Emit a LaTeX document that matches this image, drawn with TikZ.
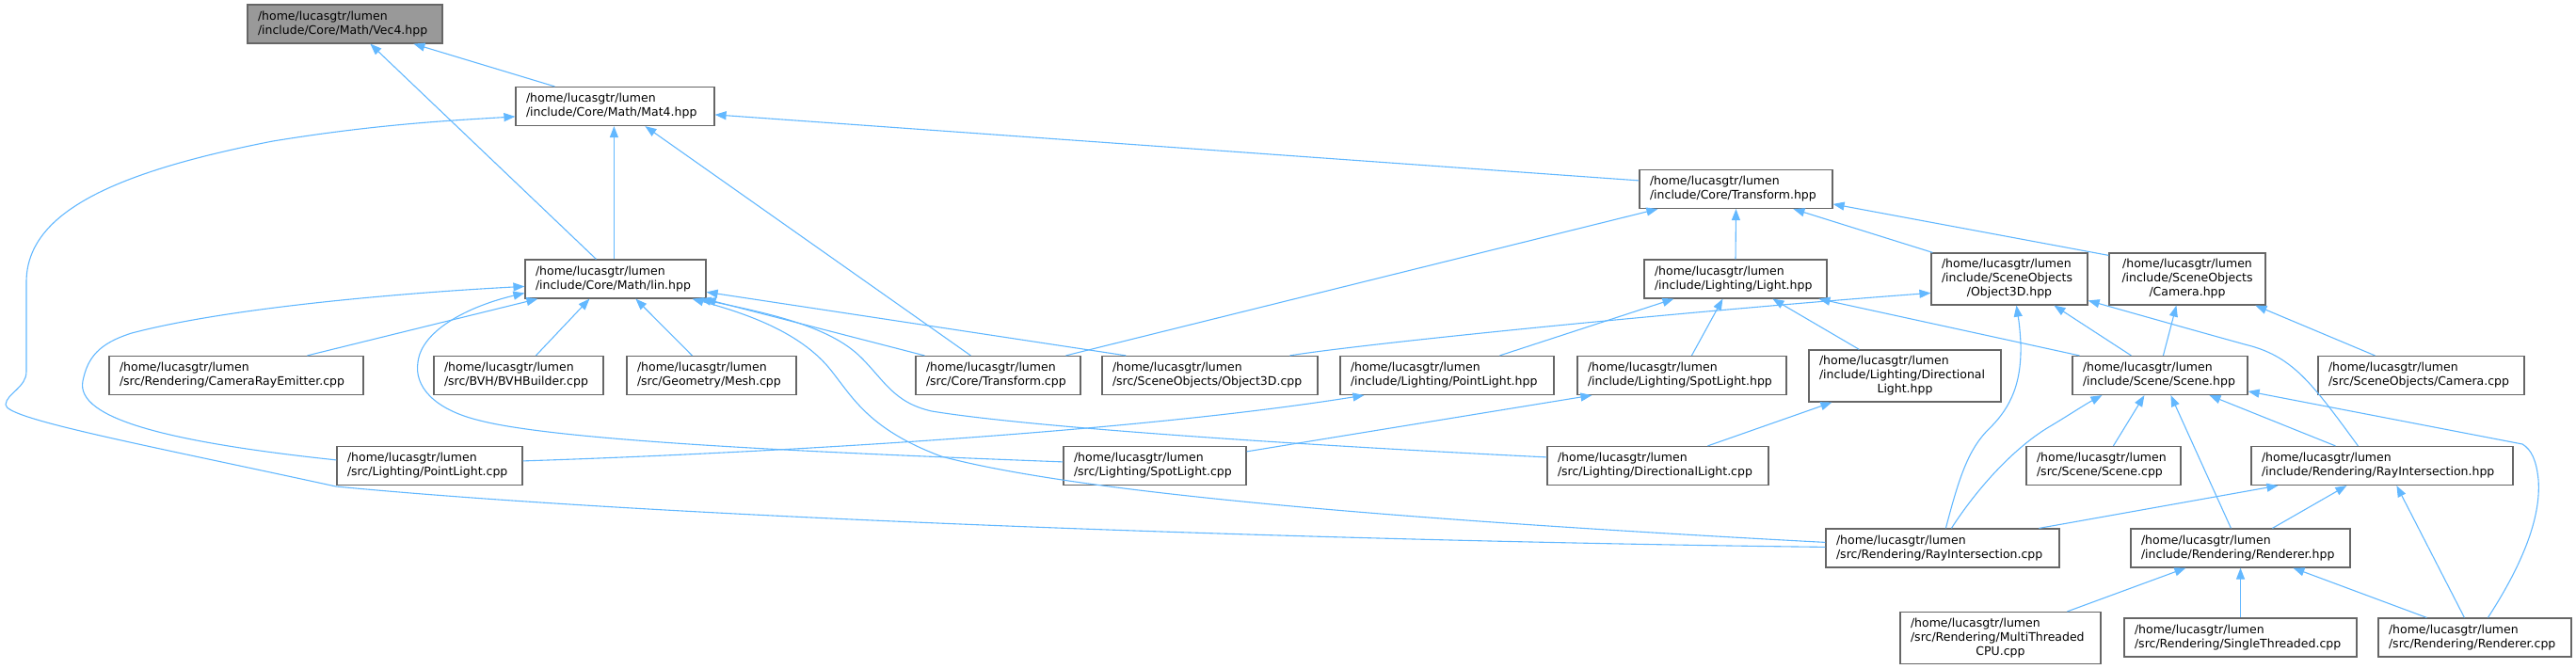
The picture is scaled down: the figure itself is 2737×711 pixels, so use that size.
\documentclass[tikz,border=0pt]{standalone}
\usepackage{fontspec}
\setmainfont{DejaVu Sans}
\usetikzlibrary{arrows.meta}
\definecolor{edgec}{HTML}{63B8FF}
\definecolor{boxc}{HTML}{666666}
\definecolor{vecfill}{HTML}{999999}
\tikzset{
  box/.style={draw=boxc, fill=white, line width=1.2pt, inner xsep=11pt, inner ysep=0pt,
    align=left, font=\fontsize{12.5pt}{15pt}\selectfont, anchor=center},
  dep/.style={draw=edgec, line width=1.1pt, -{Triangle[length=12pt,width=9pt]}},
}
\newcommand{\cl}[1]{\makebox[\linewidth][c]{#1}}
\begin{document}
\begin{tikzpicture}[x=1pt,y=-1pt]
\useasboundingbox (0,0) rectangle (2737,711);
% nodes
\node[box, fill=vecfill, text width=185pt, minimum height=41pt] (vec4) at (366.5,25.5) {/home/lucasgtr/lumen\\/include/Core/Math/Vec4.hpp};
\node[box, text width=189pt, minimum height=41pt] (mat4) at (653.5,113) {/home/lucasgtr/lumen\\/include/Core/Math/Mat4.hpp};
\node[box, text width=170pt, minimum height=41pt] (lin) at (654,296.5) {/home/lucasgtr/lumen\\/include/Core/Math/lin.hpp};
\node[box, text width=183pt, minimum height=41pt] (transhpp) at (1844.5,201) {/home/lucasgtr/lumen\\/include/Core/Transform.hpp};
\node[box, text width=172pt, minimum height=41pt] (light) at (1844,296.5) {/home/lucasgtr/lumen\\/include/Lighting/Light.hpp};
\node[box, text width=144pt, minimum height=55pt] (obj3dhpp) at (2135,296.5) {/home/lucasgtr/lumen\\/include/SceneObjects\\\cl{/Object3D.hpp}};
\node[box, align=center, text width=144pt, minimum height=55pt] (camhpp) at (2324,296.5) {/home/lucasgtr/lumen\\/include/SceneObjects\\/Camera.hpp};
\node[box, text width=248pt, minimum height=41pt] (cre) at (251,399) {/home/lucasgtr/lumen\\/src/Rendering/CameraRayEmitter.cpp};
\node[box, text width=158pt, minimum height=41pt] (bvh) at (551,399) {/home/lucasgtr/lumen\\/src/BVH/BVHBuilder.cpp};
\node[box, text width=158pt, minimum height=41pt] (mesh) at (756,399) {/home/lucasgtr/lumen\\/src/Geometry/Mesh.cpp};
\node[box, text width=153pt, minimum height=41pt] (transcpp) at (1060.5,399) {/home/lucasgtr/lumen\\/src/Core/Transform.cpp};
\node[box, text width=207pt, minimum height=41pt] (obj3dcpp) at (1285.5,399) {/home/lucasgtr/lumen\\/src/SceneObjects/Object3D.cpp};
\node[box, text width=205pt, minimum height=41pt] (plhpp) at (1537.5,399) {/home/lucasgtr/lumen\\/include/Lighting/PointLight.hpp};
\node[box, text width=200pt, minimum height=41pt] (slhpp) at (1787,399) {/home/lucasgtr/lumen\\/include/Lighting/SpotLight.hpp};
\node[box, text width=182pt, minimum height=55pt] (dlhpp) at (2024,399.5) {/home/lucasgtr/lumen\\/include/Lighting/Directional\\\cl{Light.hpp}};
\node[box, text width=164pt, minimum height=41pt] (scenehpp) at (2295,399) {/home/lucasgtr/lumen\\/include/Scene/Scene.hpp};
\node[box, text width=197pt, minimum height=41pt] (camcpp) at (2572.5,399) {/home/lucasgtr/lumen\\/src/SceneObjects/Camera.cpp};
\node[box, text width=175pt, minimum height=41pt] (plcpp) at (456.5,495) {/home/lucasgtr/lumen\\/src/Lighting/PointLight.cpp};
\node[box, text width=172pt, minimum height=41pt] (slcpp) at (1227,495) {/home/lucasgtr/lumen\\/src/Lighting/SpotLight.cpp};
\node[box, text width=213pt, minimum height=41pt] (dlcpp) at (1761.5,495) {/home/lucasgtr/lumen\\/src/Lighting/DirectionalLight.cpp};
\node[box, text width=142pt, minimum height=41pt] (scenecpp) at (2235,495) {/home/lucasgtr/lumen\\/src/Scene/Scene.cpp};
\node[box, text width=256pt, minimum height=41pt] (rihpp) at (2531,495) {/home/lucasgtr/lumen\\/include/Rendering/RayIntersection.hpp};
\node[box, text width=226pt, minimum height=41pt] (ricpp) at (2064,582.5) {/home/lucasgtr/lumen\\/src/Rendering/RayIntersection.cpp};
\node[box, text width=211pt, minimum height=41pt] (renhpp) at (2380.5,582.5) {/home/lucasgtr/lumen\\/include/Rendering/Renderer.hpp};
\node[box, text width=191pt, minimum height=55pt] (mt) at (2125.5,678) {/home/lucasgtr/lumen\\/src/Rendering/MultiThreaded\\\cl{CPU.cpp}};
\node[box, text width=225pt, minimum height=41pt] (st) at (2380.5,677.5) {/home/lucasgtr/lumen\\/src/Rendering/SingleThreaded.cpp};
\node[box, text width=183pt, minimum height=41pt] (rencpp) at (2629.5,677.5) {/home/lucasgtr/lumen\\/src/Rendering/Renderer.cpp};
% edges
\draw[dep] ([xshift=42pt]mat4.north west) -- ([xshift=177pt]vec4.south west);
\draw[dep] ([xshift=76pt]lin.north west) -- ([xshift=131pt]vec4.south west);
\draw[dep] ([xshift=95pt]lin.north west) -- ([xshift=105pt]mat4.south west);
\draw[dep] ([yshift=-12pt]transhpp.north west) -- ([yshift=-30pt]mat4.north east);
\draw[dep] ([yshift=-20pt]ricpp.north west) .. controls (1400,575) and (700,550) .. (357,517) .. controls (150,472) and (5,445) .. (6,430) .. controls (7,418) and (28,412) .. (28,395) -- (28,300) .. controls (28,230) and (110,185) .. (290,150) .. controls (400,132) and (480,128) .. ([yshift=-32pt]mat4.north west);
\draw[dep] ([yshift=-15pt]ricpp.north west) .. controls (1500,553) and (1150,525) .. (1000,485) .. controls (920,455) and (905,420) .. (880,390) .. controls (850,355) and (800,335) .. ([xshift=178pt]lin.south west);
\draw[dep] ([yshift=-12pt]dlcpp.north west) .. controls (1400,474) and (1100,455) .. (990,437) .. controls (950,428) and (940,405) .. (915,380) .. controls (880,345) and (810,332) .. ([xshift=186pt]lin.south west);
\draw[dep] ([yshift=-17pt]slcpp.north west) .. controls (900,482) and (600,470) .. (510,447) .. controls (460,435) and (440,410) .. (444,385) .. controls (448,350) and (500,325) .. ([yshift=-36pt]lin.north west);
\draw[dep] ([yshift=-15pt]plcpp.north west) .. controls (180,470) and (80,445) .. (88,405) .. controls (93,380) and (105,365) .. (140,354) .. controls (250,325) and (450,310) .. ([yshift=-29pt]lin.north west);
\draw[dep] ([xshift=211pt]cre.north west) -- ([xshift=14pt]lin.south west);
\draw[dep] ([xshift=109pt]bvh.north west) -- ([xshift=69pt]lin.south west);
\draw[dep] ([xshift=70pt]mesh.north west) -- ([xshift=118pt]lin.south west);
\draw[dep] ([xshift=26pt]obj3dcpp.north west) -- ([yshift=-35pt]lin.north east);
\draw[dep] ([xshift=10pt]transcpp.north west) -- ([xshift=-2pt]lin.south east);
\draw[dep] ([yshift=-16pt]plcpp.north east) .. controls (800,482) and (1200,460) .. ([xshift=26pt]plhpp.south west);
\draw[dep] ([yshift=-6pt]slcpp.north east) -- ([xshift=16pt]slhpp.south west);
\draw[dep] ([xshift=171pt]dlcpp.north west) -- ([xshift=25pt]dlhpp.south west);
\draw[dep] ([xshift=170pt]plhpp.north west) -- ([xshift=32pt]light.south west);
\draw[dep] ([xshift=122pt]slhpp.north west) -- ([xshift=84pt]light.south west);
\draw[dep] ([xshift=54pt]dlhpp.north west) -- ([xshift=137pt]light.south west);
\draw[dep] ([xshift=8pt]scenehpp.north west) -- ([xshift=186pt]light.south west);
\draw[dep] (light.north) -- (transhpp.south);
\draw[dep] ([xshift=2pt]obj3dhpp.north west) -- ([xshift=164pt]transhpp.south west);
\draw[dep] ([yshift=-3pt]camhpp.north west) -- ([yshift=-37pt]transhpp.north east);
\draw[dep] ([xshift=160pt]transcpp.north west) -- ([xshift=20pt]transhpp.south west);
\draw[dep] ([xshift=59pt]transcpp.north west) -- ([xshift=138pt]mat4.south west);
\draw[dep] ([xshift=200pt]obj3dcpp.north west) .. controls (1450,365) and (1800,330) .. ([yshift=-43pt]obj3dhpp.north west);
\draw[dep] ([xshift=63pt]scenehpp.north west) -- ([xshift=131pt]obj3dhpp.south west);
\draw[dep] ([xshift=97pt]scenehpp.north west) -- ([xshift=72pt]camhpp.south west);
\draw[dep] ([xshift=61pt]camcpp.north west) -- ([xshift=156pt]camhpp.south west);
\draw[dep] ([xshift=114pt]rihpp.north west) .. controls (2455,405) and (2435,378) .. (2385,366) .. controls (2320,348) and (2260,331) .. ([yshift=-51pt]obj3dhpp.north east);
\draw[dep] ([xshift=128pt]ricpp.north west) .. controls (2082,505) and (2092,477) .. (2113,456) .. controls (2138,432) and (2148,405) .. (2147,365) .. controls (2146,345) and (2144,335) .. ([xshift=91pt]obj3dhpp.south west);
\draw[dep] ([xshift=134pt]ricpp.north west) .. controls (2100,520) and (2140,475) .. (2180,452) .. controls (2200,440) and (2215,430) .. ([xshift=32pt]scenehpp.south west);
\draw[dep] ([xshift=93pt]scenecpp.north west) -- ([xshift=77pt]scenehpp.south west);
\draw[dep] ([xshift=107pt]renhpp.north west) -- ([xshift=105pt]scenehpp.south west);
\draw[dep] ([xshift=90pt]rihpp.north west) -- ([xshift=146pt]scenehpp.south west);
\draw[dep] ([xshift=117pt]rencpp.north west) .. controls (2680,600) and (2700,550) .. (2697,510) .. controls (2695,490) and (2690,478) .. (2680,472) -- ([yshift=-38pt]scenehpp.north east);
\draw[dep] ([xshift=227pt]ricpp.north west) -- ([xshift=29pt]rihpp.south west);
\draw[dep] ([xshift=151pt]renhpp.north west) -- ([xshift=102pt]rihpp.south west);
\draw[dep] ([xshift=92pt]rencpp.north west) -- ([xshift=155pt]rihpp.south west);
\draw[dep] ([xshift=178pt]mt.north west) -- ([xshift=59pt]renhpp.south west);
\draw[dep] (st.north) -- (renhpp.south);
\draw[dep] ([xshift=52pt]rencpp.north west) -- ([xshift=173pt]renhpp.south west);
\end{tikzpicture}
\end{document}
